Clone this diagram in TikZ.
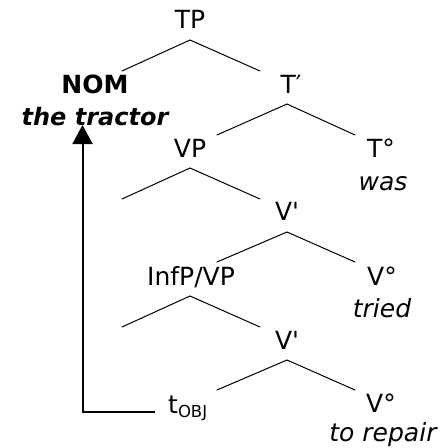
\documentclass[tikz,border=0pt]{standalone}
\usepackage{fontspec}
\newfontfamily\dv{DejaVu Sans}
\usetikzlibrary{arrows.meta}
\tikzset{
  lbl/.style={anchor=base, inner sep=0pt, font=\dv\fontsize{25}{29}\selectfont},
  word/.style={lbl, font=\dv\fontsize{25}{29}\selectfont\itshape},
  branch/.style={line width=1pt, line cap=round},
  move/.style={line width=2pt, -{Triangle[length=19pt,width=20pt]}}
}
\begin{document}
\begin{tikzpicture}[x=1pt,y=-1pt]
\useasboundingbox (0,0) rectangle (443,448);
% labels
\node[lbl] (tp) at (190,28) {TP};
\node[lbl, font=\dv\fontsize{25}{29}\selectfont\bfseries] (nom) at (95,93) {NOM};
\node[word, font=\dv\fontsize{24}{29}\selectfont\bfseries\itshape] (tractor) at (95,125) {the tractor};
\node[lbl] (tbar) at (291,93) {T′};
\node[lbl] (vp) at (190,157) {VP};
\node[lbl] (tzero) at (381,157) {T°};
\node[word] (was) at (383,190) {was};
\node[lbl] (vbar1) at (287,220) {V'};
\node[lbl] (infp) at (191,285) {InfP/VP};
\node[lbl] (vzero1) at (382,285) {V°};
\node[word] (tried) at (382,317) {tried};
\node[lbl] (vbar2) at (287,349) {V'};
\node[lbl, anchor=base west] (tobj) at (168,413) {t\raisebox{-4pt}{\fontsize{16.5}{18}\selectfont OBJ}};
\node[lbl] (vzero2) at (381,412) {V°};
\node[word] (repair) at (383,441) {to repair};
% branch points
\coordinate (a1) at (190,40);  \coordinate (l1) at (122,71);  \coordinate (r1) at (260,71);
\coordinate (a2) at (287,104); \coordinate (l2) at (217,135); \coordinate (r2) at (355,135);
\coordinate (a3) at (190,168); \coordinate (l3) at (122,199); \coordinate (r3) at (260,199);
\coordinate (a4) at (287,232); \coordinate (l4) at (217,262); \coordinate (r4) at (355,262);
\coordinate (a5) at (190,296); \coordinate (l5) at (122,327); \coordinate (r5) at (260,327);
\coordinate (a6) at (287,360); \coordinate (l6) at (217,390); \coordinate (r6) at (355,390);
\draw[branch] (l1) -- (a1) -- (r1);
\draw[branch] (l2) -- (a2) -- (r2);
\draw[branch] (l3) -- (a3) -- (r3);
\draw[branch] (l4) -- (a4) -- (r4);
\draw[branch] (l5) -- (a5) -- (r5);
\draw[branch] (l6) -- (a6) -- (r6);
% movement arrow
\coordinate (mstart) at (155,412);
\coordinate (mend) at (82.5,125);
\draw[move] (mstart) -| (mend);
\end{tikzpicture}
\end{document}
